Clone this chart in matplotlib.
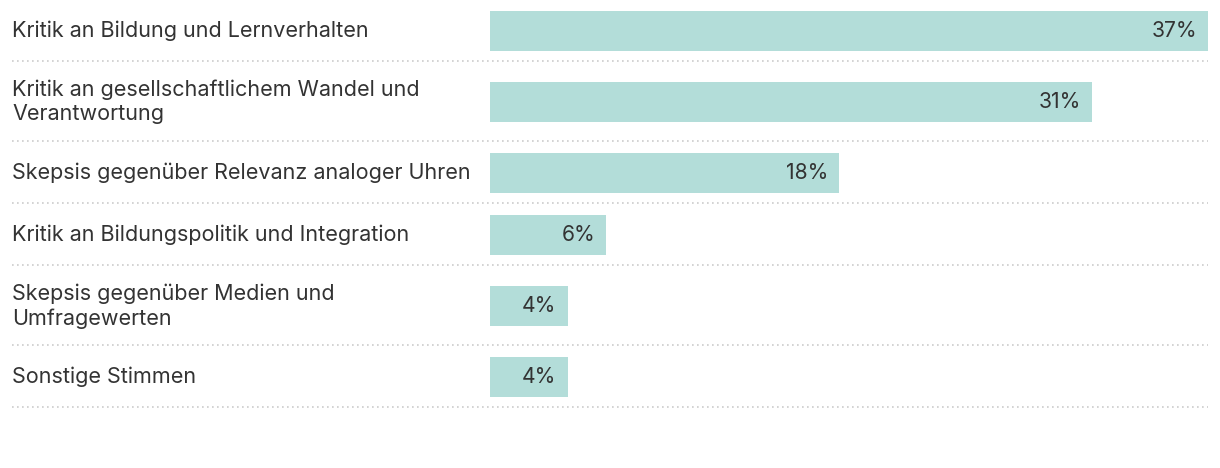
import matplotlib.pyplot as plt

plt.rcParams['font.family'] = ['Inter', 'DejaVu Sans']

categories = [
    'Kritik an Bildung und Lernverhalten',
    'Kritik an gesellschaftlichem Wandel und\nVerantwortung',
    'Skepsis gegenüber Relevanz analoger Uhren',
    'Kritik an Bildungspolitik und Integration',
    'Skepsis gegenüber Medien und\nUmfragewerten',
    'Sonstige Stimmen',
]
values = [37, 31, 18, 6, 4, 4]

bar_color = '#b3ddd9'
text_color = '#333333'
sep_color = '#cccccc'

W, H = 1220, 468
fig = plt.figure(figsize=(W / 100, H / 100), dpi=100)
ax = fig.add_axes([0, 0, 1, 1])

# pixel layout: bars start at 490px, longest bar ends at 1208px
bar_left, bar_right = 490, 1208
scale = (bar_right - bar_left) / max(values)
ax.set_xlim(-bar_left / scale, (W - bar_left) / scale)
ax.set_ylim(H, 0)
ax.axis('off')

label_x = (12 - bar_left) / scale
sep_right = max(values)

top = 0
for cat, v in zip(categories, values):
    row_h = 80 if '\n' in cat else 62
    center = top + row_h / 2
    ax.barh(center, v, height=40, left=0, color=bar_color)
    ax.text(v - 11 / scale, center, f'{v}%', ha='right', va='center',
            fontsize=15.2, color=text_color)
    ax.text(label_x, center, cat, ha='left', va='center', fontsize=15.5,
            color=text_color, linespacing=1.25)
    top += row_h
    ax.hlines(top - 1, label_x, sep_right, colors=sep_color, linewidth=1.2,
              linestyles=(0, (1, 2)))

fig.savefig('out.png', dpi=100, facecolor='white')
